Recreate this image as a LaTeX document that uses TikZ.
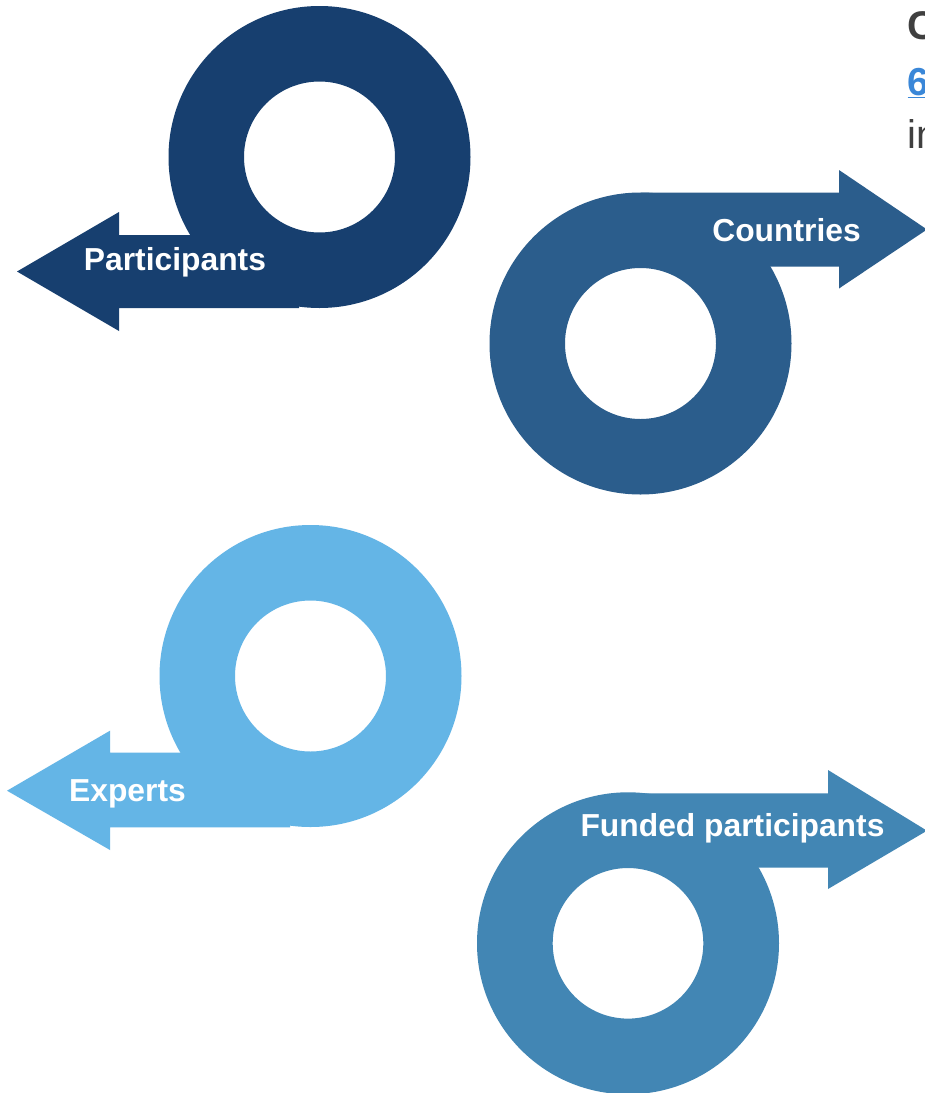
\documentclass[tikz,border=0pt]{standalone}
\usepackage{fontspec}
\setmainfont{Liberation Sans}
\definecolor{cPart}{HTML}{173F6F}
\definecolor{cCoun}{HTML}{2B5D8C}
\definecolor{cExp}{HTML}{64B5E6}
\definecolor{cFund}{HTML}{4286B4}
\definecolor{txtgrey}{HTML}{404040}
\definecolor{txtblue}{HTML}{3A87D8}
\begin{document}
\begin{tikzpicture}[x=1pt,y=-1pt,
  lbl/.style={text=white,font=\bfseries\fontsize{31.8}{36}\selectfont,inner sep=0pt,anchor=base},
  side/.style={inner sep=0pt,anchor=base west,font=\fontsize{40}{46}\selectfont}]
\useasboundingbox (0,0) rectangle (925,1093);
\clip (0,0) rectangle (925,1093);
\fill[white] (0,0) rectangle (925,1093);
% Participants
\fill[cPart,even odd rule] (319.5,157) circle (151pt) (319.5,157) circle (75.5pt);
\fill[cPart] (299,235) -- (119,235) -- (119,212) -- (17,271.5) -- (119,331) -- (119,308) -- (299,308) -- cycle;
\node[lbl] (participants) at (175,270.7) {Participants};
% Countries
\fill[cCoun,even odd rule] (640.5,343.5) circle (151pt) (640.5,343.5) circle (75.5pt);
\fill[cCoun] (660,192.5) -- (839,192.5) -- (839,170) -- (927,229.5) -- (839,288.5) -- (839,266.5) -- (640.5,266.5) -- (640.5,192.5) -- cycle;
\node[lbl] (countries) at (786.5,241.7) {Countries};
% Experts
\fill[cExp,even odd rule] (310.5,676) circle (151pt) (310.5,676) circle (75.5pt);
\fill[cExp] (290,752.7) -- (110,752.7) -- (110,730.7) -- (7,790.7) -- (110,850) -- (110,827.3) -- (290,827.3) -- cycle;
\node[lbl] (experts) at (127.5,801) {Experts};
% Funded participants
\fill[cFund,even odd rule] (628,943.3) circle (151pt) (628,943.3) circle (75.3pt);
\fill[cFund] (649,793.3) -- (828,793.3) -- (828,770) -- (927,830.7) -- (828,889) -- (828,867.7) -- (628,867.7) -- (628,793.3) -- cycle;
\node[lbl] (funded) at (732.5,836) {Funded participants};
% clipped side text
\node[side,text=txtgrey,font=\bfseries\fontsize{40}{46}\selectfont] (sideC) at (907.5,39.5) {C};
\node[side,text=txtblue,font=\bfseries\fontsize{39}{46}\selectfont] (side6) at (907.5,95) {\underline{6}};
\node[side,text=txtgrey] (sidein) at (907.5,148) {in};
\end{tikzpicture}
\end{document}
